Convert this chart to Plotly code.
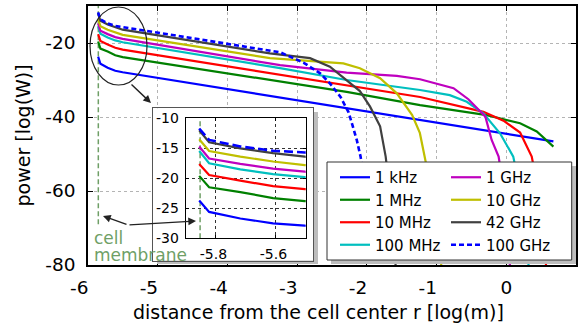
import plotly.graph_objects as go

FONT = "DejaVu Sans"

# ---------------- data ----------------
labels = ["1 kHz", "1 MHz", "10 MHz", "100 MHz", "1 GHz", "10 GHz", "42 GHz", "100 GHz"]
colors = ["#0000ff", "#008000", "#ff0000", "#00bfbf", "#bf00bf", "#bfbf00", "#404040", "#0000ff"]
legend_column = ["legend", "legend", "legend", "legend", "legend2", "legend2", "legend2", "legend2"]

# common near-membrane abscissae (log10 of r in m)
head_x = [-5.855, -5.822, -5.718, -5.609, -5.503]

x_1khz = head_x + [-3.245, 0.676]
y_1khz = [-23.7, -25.6, -26.7, -27.5, -27.9, -34.7, -46.6]

x_1mhz = head_x + [-3.245, -2.29, -1.237, -0.28, 0.198, 0.437, 0.676]
y_1mhz = [-19.6, -21.5, -22.3, -23.3, -23.8, -30.5, -33.2, -36.8, -39.5, -41.7, -43.9, -48.0]

x_10mhz = head_x + [-3.245, -2.29, -1.237, -0.328, -0.04, 0.198, 0.365, 0.48, 0.58]
y_10mhz = [-17.6, -19.45, -20.4, -21.3, -21.8, -28.6, -31.4, -34.6, -38.6, -41.0, -44.2, -50.7, -62.0, -82.0]

x_100mhz = head_x + [-3.245, -2.29, -1.237, -0.81, -0.567, -0.33, -0.09, 0.10, 0.22, 0.33]
y_100mhz = [-15.45, -17.5, -18.5, -19.3, -19.8, -26.8, -30.0, -32.7, -34.1, -35.9, -39.0, -44.4, -50.7, -62.0, -82.0]

x_1ghz = head_x + [-3.245, -2.29, -1.57, -1.237, -0.757, -0.544, -0.30, -0.21, -0.11, -0.02, 0.06]
y_1ghz = [-14.7, -16.7, -17.6, -18.4, -18.9, -26.0, -28.0, -28.9, -29.8, -32.2, -35.2, -39.9, -46.2, -50.7, -62.0, -82.0]

x_10ghz = head_x + [-3.39, -2.815, -2.337, -2.10, -1.81, -1.57, -1.35, -1.24, -1.17, -1.05, -0.92]
y_10ghz = [-13.5, -15.45, -16.4, -17.2, -17.8, -24.1, -24.8, -25.5, -26.8, -29.5, -33.6, -39.5, -44.3, -50.7, -62.0, -82.0]

x_42ghz = head_x + [-3.39, -2.815, -2.53, -2.29, -2.10, -1.954, -1.81, -1.73, -1.66, -1.58]
y_42ghz = [-12.0, -14.0, -15.0, -15.8, -16.4, -22.8, -24.1, -26.4, -30.0, -33.0, -37.2, -42.5, -50.7, -62.0, -82.0]

x_100ghz = head_x + [-3.39, -3.245, -2.91, -2.67, -2.53, -2.38, -2.26, -2.145, -2.09, -2.0, -1.9]
y_100ghz = [-11.7, -13.6, -14.7, -15.4, -15.7, -21.9, -22.5, -25.3, -28.2, -30.9, -34.5, -38.8, -46.2, -50.7, -62.0, -82.0]

series_x = [x_1khz, x_1mhz, x_10mhz, x_100mhz, x_1ghz, x_10ghz, x_42ghz, x_100ghz]
series_y = [y_1khz, y_1mhz, y_10mhz, y_100mhz, y_1ghz, y_10ghz, y_42ghz, y_100ghz]

membrane_x = -5.852

main_xticks = [-6, -5, -4, -3, -2, -1, 0, 1]
main_xticktext = ["-6", "-5", "-4", "-3", "-2", "-1", "0", "1"]
main_yticks = [-80, -60, -40, -20]
main_yticktext = ["-80", "-60", "-40", "-20"]
inset_xticks = [-5.8, -5.6]
inset_xticktext = ["-5.8", "-5.6"]
inset_yticks = [-30, -25, -20, -15, -10]
inset_yticktext = ["-30", "-25", "-20", "-15", "-10"]

# ---------------- geometry helpers ----------------
W, H = 578, 329
ML, MR, MT, MB = 88, 2, 6, 64
PW, PH = W - ML - MR, H - MT - MB


def fx(px):
    return (px - ML) / PW


def fy(py):
    return (H - MB - py) / PH


NB = "\u00a0"


def shifted(texts, n):
    # negative labels sit slightly left of their tick in the reference
    return [t + NB * n if t.startswith("-") else t for t in texts]


fig = go.Figure()

membrane_color = "#6f9f66"

# main membrane line
fig.add_trace(go.Scatter(x=[membrane_x, membrane_x], y=[-69, -10], mode="lines",
                         line=dict(color=membrane_color, width=1.5, dash="5px,3px"),
                         showlegend=False, hoverinfo="skip", xaxis="x", yaxis="y"))

for i in range(len(labels)):
    dashed = labels[i] == "100 GHz"
    fig.add_trace(go.Scatter(
        x=series_x[i], y=series_y[i], mode="lines", name=labels[i],
        legend=legend_column[i],
        line=dict(color=colors[i], width=2.6 if dashed else 2.2,
                  dash="5px,3px" if dashed else "solid"),
        xaxis="x", yaxis="y"))

# inset shadow (gray) and box
fig.add_trace(go.Scatter(x=[0, 1, 1, 0, 0], y=[0, 0, 1, 1, 0], mode="lines", fill="toself",
                         fillcolor="#bdbdbd", line=dict(width=0), showlegend=False,
                         hoverinfo="skip", xaxis="x2", yaxis="y2"))
fig.add_trace(go.Scatter(x=[0.5], y=[0.5], mode="markers", marker=dict(opacity=0),
                         showlegend=False, hoverinfo="skip", xaxis="x3", yaxis="y3"))

# inset
fig.add_trace(go.Scatter(x=[membrane_x, membrane_x], y=[-30, -10], mode="lines",
                         line=dict(color=membrane_color, width=1.5, dash="5px,3px"),
                         showlegend=False, hoverinfo="skip", xaxis="x4", yaxis="y4"))
for i in range(len(labels)):
    dashed = labels[i] == "100 GHz"
    fig.add_trace(go.Scatter(
        x=series_x[i], y=series_y[i], mode="lines", name=labels[i], showlegend=False,
        line=dict(color=colors[i], width=2.6 if dashed else 2.2,
                  dash="9px,4px" if dashed else "solid"),
        xaxis="x4", yaxis="y4"))

tickfont = dict(family=FONT, size=18.5, color="black")
grid_main = dict(showgrid=True, gridcolor="#b4b4b4", griddash="dot", gridwidth=1,
                 zeroline=False, showline=True, linecolor="black", linewidth=1.5,
                 mirror="ticks", ticks="inside", ticklen=5, tickcolor="black",
                 tickfont=tickfont, automargin=False)
grid_inset = dict(showgrid=True, gridcolor="#333333", griddash="dot", gridwidth=1,
                  zeroline=False, showline=True, linecolor="black", linewidth=1.2,
                  mirror="ticks", ticks="inside", ticklen=3, tickcolor="black",
                  tickfont=dict(family=FONT, size=14, color="black"), automargin=False)
hidden = dict(visible=False, range=[0, 1], fixedrange=True)
box = dict(range=[0, 1], showline=True, mirror=True, linecolor="#555555", linewidth=1,
           ticks="", showticklabels=False, showgrid=False, zeroline=False, fixedrange=True)

legend_common = dict(orientation="v", xanchor="left", yanchor="top",
                     bgcolor="rgba(0,0,0,0)", borderwidth=0,
                     font=dict(family=FONT, size=15, color="black"), tracegroupgap=0)

fig.update_layout(
    width=W, height=H,
    margin=dict(l=ML, r=MR, t=MT, b=MB),
    paper_bgcolor="white", plot_bgcolor="white",
    font=dict(family=FONT, color="black"),
    xaxis=dict(domain=[0, 1], range=[-6, 1], tickvals=main_xticks,
               ticktext=shifted(main_xticktext, 3), anchor="y",
               ticklabelstandoff=5, **grid_main),
    yaxis=dict(domain=[0, 1], range=[-80, -10], tickvals=main_yticks,
               ticktext=main_yticktext, anchor="x",
               ticklabelstandoff=7, **grid_main),
    xaxis2=dict(domain=[fx(157), fx(318)], anchor="y2", **hidden),
    yaxis2=dict(domain=[fy(264), fy(112)], anchor="x2", **hidden),
    xaxis3=dict(domain=[fx(153), fx(313.3)], anchor="y3", **box),
    yaxis3=dict(domain=[fy(260.5), fy(108.3)], anchor="x3", **box),
    xaxis4=dict(domain=[fx(185.7), fx(305.7)], range=[-5.9, -5.5], tickvals=inset_xticks,
                ticktext=shifted(inset_xticktext, 1), anchor="y4",
                ticklabelstandoff=3, **grid_inset),
    yaxis4=dict(domain=[fy(238.3), fy(118.3)], range=[-30, -10], tickvals=inset_yticks,
                ticktext=inset_yticktext, anchor="x4", ticklabelstandoff=3, **grid_inset),
    showlegend=True,
    legend=dict(x=fx(335), y=fy(161), **legend_common),
    legend2=dict(x=fx(446), y=fy(161), **legend_common),
)

# legend box with shadow
fig.add_shape(type="rect", xref="paper", yref="paper", x0=fx(331), x1=fx(576), y0=fy(264),
              y1=fy(166), fillcolor="#bdbdbd", line=dict(width=0), layer="above")
fig.add_shape(type="rect", xref="paper", yref="paper", x0=fx(327), x1=fx(571.7), y0=fy(260),
              y1=fy(162), fillcolor="white", line=dict(color="#333333", width=1), layer="above")

# ellipse around the membrane region
fig.add_shape(type="circle", xref="x", yref="y", x0=-5.971, x1=-5.1535, y0=-31.35, y1=-10.27,
              line=dict(color="#222222", width=1.2), layer="above")

# axis titles
fig.add_annotation(text="distance from the cell center r [log(m)]", xref="paper", yref="paper",
                   x=fx(318.7), y=fy(311.7), xanchor="center", yanchor="middle", showarrow=False,
                   font=dict(family=FONT, size=19, color="black"))
fig.add_annotation(text="power [log(W)]", xref="paper", yref="paper", x=fx(22), y=0.5,
                   xanchor="center", yanchor="middle", textangle=-90, showarrow=False,
                   font=dict(family=FONT, size=19, color="black"))

# cell membrane label
fig.add_annotation(text="cell", xref="paper", yref="paper", x=fx(92), y=fy(238.3),
                   xanchor="left", yanchor="middle", showarrow=False,
                   font=dict(family=FONT, size=17, color=membrane_color))
fig.add_annotation(text="membrane", xref="paper", yref="paper", x=fx(92), y=fy(255),
                   xanchor="left", yanchor="middle", showarrow=False,
                   font=dict(family=FONT, size=17, color=membrane_color))

# arrows
arrow = dict(showarrow=True, arrowhead=2, arrowsize=1.1, arrowwidth=1.4, arrowcolor="#222222",
             text="", xref="paper", yref="paper", standoff=0)
fig.add_annotation(x=fx(151), y=fy(103), ax=-21, ay=-20, **arrow)
fig.add_annotation(x=fx(103), y=fy(216), ax=25, ay=9, **arrow)
fig.add_annotation(x=fx(196), y=fy(221), ax=-68, ay=4, **arrow)

fig.write_html("out.html")
